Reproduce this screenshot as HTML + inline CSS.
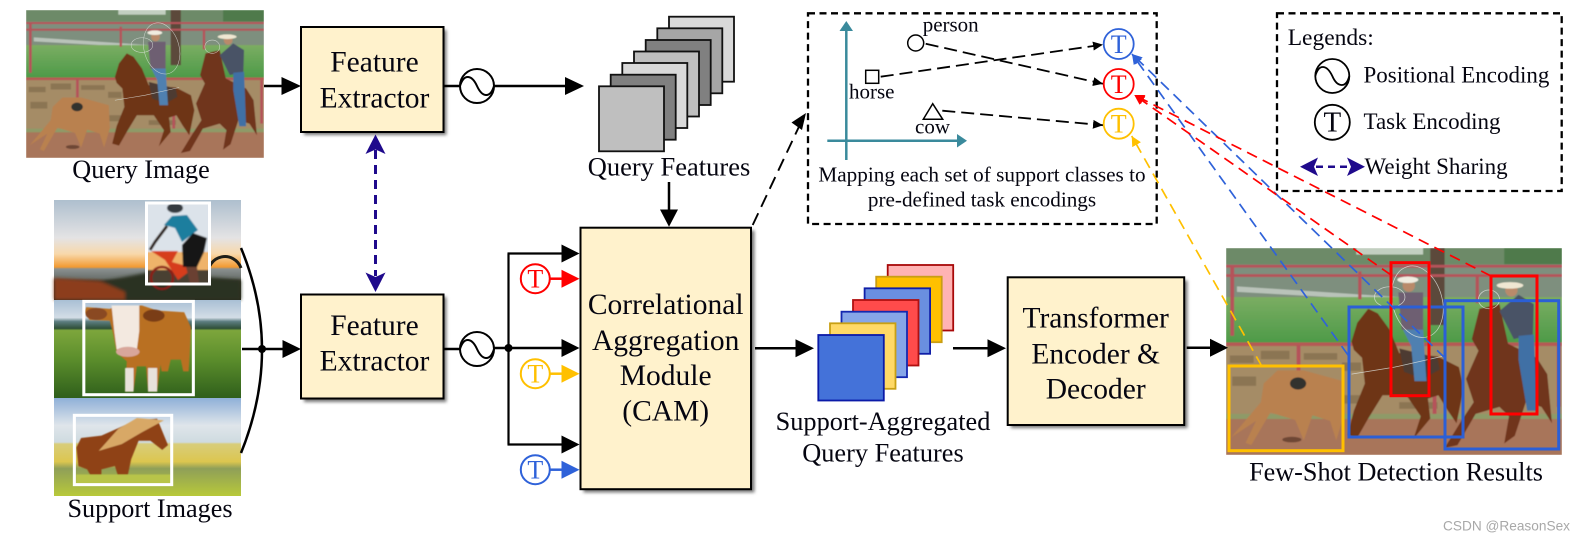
<!DOCTYPE html>
<html><head><meta charset="utf-8">
<style>
html,body{margin:0;padding:0;background:#fff;width:1586px;height:541px;overflow:hidden}
svg{display:block}
text{font-family:"Liberation Serif","Times New Roman",serif;fill:#050510}
</style></head><body>
<svg width="1586" height="541" viewBox="0 0 1586 541" xmlns="http://www.w3.org/2000/svg">
<defs>
<filter id="b" x="-5%" y="-5%" width="110%" height="110%"><feGaussianBlur stdDeviation="1.3"/></filter>
<filter id="s" x="-10%" y="-10%" width="120%" height="120%"><feGaussianBlur stdDeviation="1.5"/></filter>
<filter id="t" x="-5%" y="-5%" width="110%" height="110%"><feGaussianBlur stdDeviation=".7"/></filter>
<linearGradient id="sun" x1="0" y1="0" x2="0" y2="1"><stop offset="0" stop-color="#aebfce"/><stop offset=".38" stop-color="#e4e3e4"/><stop offset=".54" stop-color="#f8d8aa"/><stop offset=".67" stop-color="#f29a32"/><stop offset=".69" stop-color="#8a9090"/><stop offset=".78" stop-color="#6c726e"/><stop offset=".82" stop-color="#3a3428"/><stop offset="1" stop-color="#2c2a1c"/></linearGradient>
<linearGradient id="sky2" x1="0" y1="0" x2="0" y2="1"><stop offset="0" stop-color="#a9bfd4"/><stop offset=".18" stop-color="#d3dde6"/><stop offset=".22" stop-color="#5c7d80"/><stop offset=".29" stop-color="#2f4f38"/><stop offset=".31" stop-color="#7da63c"/><stop offset=".6" stop-color="#5c8e2c"/><stop offset="1" stop-color="#2f5f1b"/></linearGradient>
<linearGradient id="sky3" x1="0" y1="0" x2="0" y2="1"><stop offset="0" stop-color="#8fb0d8"/><stop offset=".28" stop-color="#dfe5ea"/><stop offset=".45" stop-color="#cfdbe0"/><stop offset=".47" stop-color="#d8cd7a"/><stop offset=".65" stop-color="#dcc64f"/><stop offset=".72" stop-color="#8f9f58"/><stop offset="1" stop-color="#b8c93a"/></linearGradient>
<linearGradient id="grass" x1="0" y1="0" x2="0" y2="1"><stop offset="0" stop-color="#7bad62"/><stop offset="1" stop-color="#4c9a48"/></linearGradient>
<clipPath id="qc"><rect x="77" y="30" width="704" height="443"/></clipPath>
<symbol id="scene" viewBox="77 30 704 443" preserveAspectRatio="none">
<g clip-path="url(#qc)"><g filter="url(#b)">
<rect x="77" y="30" width="704" height="443" fill="#a8765a"/>
<rect x="77" y="30" width="704" height="40" fill="#6d8a68"/>
<rect x="350" y="30" width="140" height="14" fill="#c2cfc0"/>
<rect x="660" y="30" width="121" height="35" fill="#4f7a4c"/>
<rect x="77" y="65" width="704" height="70" fill="#7e8f7e"/>
<polygon points="100,112 781,158 781,172 560,150 100,124" fill="#b9c3b9"/>
<rect x="77" y="135" width="704" height="100" fill="url(#grass)"/>
<rect x="505" y="30" width="30" height="165" fill="#5b4a3b"/>
<rect x="77" y="232" width="704" height="8" fill="#b55a55"/>
<rect x="77" y="240" width="704" height="150" fill="#a58c66"/>
<g fill="#7e684a" opacity=".65"><rect x="85" y="260" width="50" height="16"/><rect x="150" y="250" width="60" height="18"/><rect x="240" y="255" width="70" height="14"/><rect x="320" y="275" width="40" height="18"/><rect x="90" y="305" width="50" height="20"/><rect x="320" y="345" width="40" height="18"/><rect x="440" y="360" width="80" height="14"/></g>
<rect x="77" y="385" width="704" height="12" fill="#8e9a68"/>
<rect x="77" y="396" width="704" height="77" fill="#a8755a"/>
<g fill="#b5535a"><rect x="77" y="66" width="704" height="6"/><rect x="77" y="86" width="704" height="6"/><rect x="86" y="70" width="8" height="148"/><rect x="354" y="80" width="7" height="60"/><rect x="600" y="88" width="7" height="60"/><rect x="225" y="238" width="8" height="60"/><rect x="510" y="340" width="8" height="45"/><rect x="770" y="240" width="8" height="130"/></g>
<path d="M340 230L352 190L375 160L395 170L420 205L440 255L520 262L565 285L575 330L560 405L540 375L522 345L500 352L505 395L470 438L485 390L455 345L405 345L375 395L352 436L332 430L345 378L368 320L362 265L345 248Z" fill="#6e3418"/>
<path d="M440 245L520 265L525 290L490 310L450 295Z" fill="#4e3a30"/>
<polygon points="438,125 490,125 490,205 445,205" fill="#6e5f72"/>
<polygon points="448,205 490,205 497,315 472,315 465,240" fill="#4f80b0"/>
<ellipse cx="460" cy="110" rx="13" ry="14" fill="#b98a6a"/>
<ellipse cx="458" cy="98" rx="22" ry="7" fill="#f0ece0"/>
<path d="M592 225L608 160L650 150L668 235L728 265L750 300L760 405L738 370L705 360L682 432L660 448L670 390L650 370L600 385L562 452L535 458L570 400L596 360L580 310L606 250Z" fill="#70341a"/>
<polygon points="650,165 690,130 722,150 720,215 680,225" fill="#4a5266"/>
<polygon points="690,218 722,215 728,378 708,378 690,270" fill="#3f6fa5"/>
<ellipse cx="675" cy="120" rx="13" ry="14" fill="#b98a6a"/>
<ellipse cx="672" cy="110" rx="28" ry="7" fill="#efe7d2"/>
<path d="M88 435L150 360L156 320L185 292L240 292L322 315L325 385L308 442L295 400L258 388L240 442L222 398L170 382L130 452L118 447L140 400Z" fill="#b9814f"/>
<ellipse cx="228" cy="320" rx="17" ry="13" fill="#33302f"/>
<ellipse cx="215" cy="440" rx="20" ry="6" fill="#6e4634"/>
</g>
<g fill="none" stroke="#dfe3df" stroke-width="1.600" opacity=".8"><ellipse cx="478" cy="145" rx="52" ry="78" transform="rotate(-15 478 145)"/><ellipse cx="420" cy="135" rx="32" ry="22"/><ellipse cx="628" cy="140" rx="22" ry="20"/><path d="M340 300L430 285L530 262"/></g>
</g>
</symbol>
<marker id="mk" markerUnits="userSpaceOnUse" markerWidth="14" markerHeight="12" refX="10" refY="5" orient="auto"><path d="M0 .5L10 5L0 9.500Z" fill="#000"/></marker>
<marker id="mb" markerUnits="userSpaceOnUse" markerWidth="14" markerHeight="12" refX="10" refY="5" orient="auto"><path d="M0 0L10 5L0 10Z" fill="#2f62d9"/></marker>
<marker id="mr" markerUnits="userSpaceOnUse" markerWidth="14" markerHeight="12" refX="10" refY="5" orient="auto"><path d="M0 0L10 5L0 10Z" fill="#ff0000"/></marker>
<marker id="my" markerUnits="userSpaceOnUse" markerWidth="14" markerHeight="12" refX="10" refY="5" orient="auto"><path d="M0 0L10 5L0 10Z" fill="#ffc000"/></marker>
</defs>

<!-- query image -->
<svg x="26" y="10" width="238" height="148"><use href="#scene" width="238" height="148"/></svg>
<text x="141" y="178" font-size="26.200" text-anchor="middle">Query Image</text>

<!-- support images -->
<g>
<rect x="54" y="200" width="187" height="100" fill="url(#sun)"/>
<g filter="url(#s)">
<path d="M54 285L90 284L130 276L150 272L241 280V300H54Z" fill="#2c3020"/>
<path d="M54 278L100 281L125 292V300H54Z" fill="#8c3e1c"/>
</g>
<path d="M208 275A17 17 0 0 1 241 268" fill="none" stroke="#1e1e18" stroke-width="3"/>
<g filter="url(#t)">
<rect x="147" y="203" width="62" height="80" fill="#dce3ea"/>
<rect x="147" y="252" width="62" height="18" fill="#efb36a"/>
<rect x="147" y="270" width="62" height="13" fill="#4a4030"/>
<circle cx="162" cy="278" r="11" fill="none" stroke="#8a1a14" stroke-width="2.500"/>
<polygon points="151,251 178,251 172,262 194,268 178,280 165,260" fill="#d63c1c"/>
<ellipse cx="175" cy="208" rx="8" ry="5" fill="#343a40"/>
<path d="M164 225L172 216L187 215L198 230L182 242L175 228Z" fill="#1e7e9e"/>
<path d="M167 226L155 242L150 250" stroke="#2a1c14" stroke-width="3" fill="none"/>
<path d="M182 245L193 233L207 238L204 252L197 267L183 267Z" fill="#141414"/>
<path d="M186 267L197 267L199 283L190 283Z" fill="#6a4030"/>
</g>
<rect x="146.500" y="203" width="63" height="81" fill="none" stroke="#fff" stroke-width="3"/>

<rect x="54" y="300" width="187" height="98" fill="url(#sky2)"/>
<g transform="translate(0,270) scale(.338)">
<g filter="url(#s)">
<path d="M255 110L325 115L345 105L420 105L465 120L545 125L565 170L560 270L558 300L542 300L535 265L505 265L497 300L478 300L475 280L465 360L438 360L432 285L405 285L395 360L370 360L375 270L345 245L335 190L325 150L265 148L250 125Z" fill="#b96f24"/>
<path d="M330 105L412 105L412 180L405 235L345 235L338 180Z" fill="#f3e9e0"/>
<ellipse cx="378" cy="242" rx="35" ry="15" fill="#d8a69a"/>
<ellipse cx="285" cy="130" rx="32" ry="18" fill="#8a4a20"/>
<ellipse cx="455" cy="135" rx="32" ry="18" fill="#7a3e18"/>
<g fill="#e8e2da"><rect x="370" y="290" width="25" height="70"/><rect x="438" y="290" width="27" height="70"/></g>
</g>
<rect x="248" y="93" width="324" height="276" fill="none" stroke="#fff" stroke-width="9"/>
</g>
<rect x="54" y="398" width="187" height="98" fill="url(#sky3)"/>
<g transform="translate(0,270) scale(.338)">
<g filter="url(#s)">
<path d="M226 525L240 497L300 490L345 470L400 445L465 440L497 518L480 532L445 505L410 505L388 560L375 622L350 612L340 580L300 590L300 620L270 612L258 590L232 580Z" fill="#8f4318"/>
<path d="M292 535L350 470L405 438L485 445L420 480L360 515Z" fill="#d8a866"/>
<rect x="225" y="605" width="280" height="28" fill="#b8c44a"/>
</g>
<rect x="220" y="430" width="288" height="205" fill="none" stroke="#fff" stroke-width="9"/>
</g>
</g>
<text x="150" y="517" font-size="26.200" text-anchor="middle">Support Images</text>

<!-- brace & connectors left -->
<path d="M241 248Q283 349 241 453" fill="none" stroke="#000" stroke-width="2.500"/>
<path d="M242 349H284" stroke="#000" stroke-width="2.500"/>
<circle cx="262" cy="349" r="4" fill="#000"/>
<polygon points="301,349 282.500,340 282.500,358" fill="#000"/>
<path d="M264 86H283" stroke="#000" stroke-width="2.500"/>
<polygon points="301,86 281.500,77 281.500,95" fill="#000"/>

<!-- feature extractors -->
<rect x="304" y="30" width="142.500" height="105" fill="#777" filter="url(#s)"/>
<rect x="301" y="27" width="142.500" height="105" fill="#fff2cc" stroke="#000" stroke-width="2"/>
<text x="374.500" y="71.500" font-size="29.500" text-anchor="middle">Feature</text>
<text x="374.500" y="107.500" font-size="29.500" text-anchor="middle">Extractor</text>
<rect x="304" y="297" width="142.500" height="105" fill="#777" filter="url(#s)"/>
<rect x="301" y="294.500" width="142.500" height="104" fill="#fff2cc" stroke="#000" stroke-width="2"/>
<text x="374.500" y="335" font-size="29.500" text-anchor="middle">Feature</text>
<text x="374.500" y="370.500" font-size="29.500" text-anchor="middle">Extractor</text>

<!-- weight sharing -->
<path d="M375.500 150V276" stroke="#1f0a8c" stroke-width="3" stroke-dasharray="9 6" fill="none"/>
<polygon points="375.500,134.500 385.500,154 375.500,149.500 365.500,154" fill="#1f0a8c"/>
<polygon points="375.500,292 385.500,272.500 375.500,277 365.500,272.500" fill="#1f0a8c"/>

<!-- positional encodings -->
<path d="M443 86H460M494 86H567" stroke="#000" stroke-width="2.500"/>
<polygon points="584,86 565,77 565,95" fill="#000"/>
<g fill="none" stroke="#000" stroke-width="2">
<circle cx="477" cy="86" r="17"/><path d="M460 86C464 73 472 75 477 86C482 97 490 99 494 86"/>
<circle cx="477" cy="349" r="17"/><path d="M460 349C464 336 472 338 477 349C482 360 490 362 494 349"/>
</g>
<path d="M443 349H460M494 348H562" stroke="#000" stroke-width="2.500"/>
<circle cx="508.500" cy="348" r="4" fill="#000"/>
<path d="M508.500 253.500V444.500" stroke="#000" stroke-width="2.200" fill="none"/>
<path d="M507.500 253.500H562M507.500 444.500H562" stroke="#000" stroke-width="2.200" fill="none"/>
<polygon points="579.500,253.500 561.500,244.500 561.500,262.500" fill="#000"/>
<polygon points="579.500,348 561.500,339 561.500,357" fill="#000"/>
<polygon points="579.500,444.500 561.500,435.500 561.500,453.500" fill="#000"/>

<!-- T circles left -->
<g font-size="26" text-anchor="middle" fill="none" stroke-width="2">
<circle cx="535.300" cy="278.700" r="14.500" stroke="#ff0000"/><text x="535.300" y="287.500" style="fill:#ff0000">T</text>
<circle cx="535.300" cy="373.700" r="14.500" stroke="#ffc000"/><text x="535.300" y="382.500" style="fill:#ffc000">T</text>
<circle cx="535.300" cy="469.700" r="14.500" stroke="#2f62d9"/><text x="535.300" y="478.500" style="fill:#2f62d9">T</text>
</g>
<path d="M550 278.700H563" stroke="#ff0000" stroke-width="2.500"/><polygon points="579.500,278.700 561.500,269.700 561.500,287.700" fill="#ff0000"/>
<path d="M550 373.700H563" stroke="#ffc000" stroke-width="2.500"/><polygon points="579.500,373.700 561.500,364.700 561.500,382.700" fill="#ffc000"/>
<path d="M550 469.700H563" stroke="#2f62d9" stroke-width="2.500"/><polygon points="579.500,469.700 561.500,460.700 561.500,478.700" fill="#2f62d9"/>

<!-- CAM -->
<rect x="583.500" y="230.500" width="171" height="262" fill="#777" filter="url(#s)"/>
<rect x="580.500" y="227.700" width="170.500" height="261.500" fill="#fff2cc" stroke="#000" stroke-width="2"/>
<g font-size="29.500" text-anchor="middle">
<text x="665.700" y="314">Correlational</text>
<text x="665.700" y="350">Aggregation</text>
<text x="665.700" y="385">Module</text>
<text x="665.700" y="420.700">(CAM)</text>
</g>

<!-- query feature stack -->
<g stroke="#111" stroke-width="1.800">
<rect x="669" y="16.700" width="65" height="65" fill="#d9d9d9"/>
<rect x="657.300" y="28.300" width="65" height="65" fill="#a6a6a6"/>
<rect x="645.700" y="40" width="65" height="65" fill="#808080"/>
<rect x="634" y="51.500" width="65" height="65" fill="#bfbfbf"/>
<rect x="622.300" y="63" width="65" height="65" fill="#d9d9d9"/>
<rect x="610.700" y="74.700" width="65" height="65" fill="#808080"/>
<rect x="599" y="86.300" width="65" height="65" fill="#bfbfbf"/>
</g>
<text x="669" y="175.700" font-size="26.500" text-anchor="middle">Query Features</text>
<path d="M669 182V212" stroke="#000" stroke-width="2.500"/>
<polygon points="669,226.700 660,209.500 678,209.500" fill="#000"/>

<!-- aggregated stack -->
<g stroke-width="1.800">
<rect x="887.700" y="265" width="65.500" height="65.500" fill="#ffb3b3" stroke="#a80808"/>
<rect x="876.200" y="276.700" width="65.500" height="65.500" fill="#ffc000" stroke="#c99e14"/>
<rect x="864.600" y="288.300" width="65.500" height="65.500" fill="#6a8fe0" stroke="#0f1ea8"/>
<rect x="853" y="300" width="65.500" height="65.500" fill="#ff4b4b" stroke="#b01010"/>
<rect x="841.500" y="311.700" width="65.500" height="65.500" fill="#86a6e8" stroke="#1428b0"/>
<rect x="830" y="323.300" width="65.500" height="65.500" fill="#ffd966" stroke="#c9a014"/>
<rect x="818.300" y="335" width="65.500" height="65.500" fill="#4472d9" stroke="#0a1aa8"/>
</g>
<path d="M755 348.300H798" stroke="#000" stroke-width="2.500"/>
<polygon points="814,348.300 795.500,339.300 795.500,357.300" fill="#000"/>
<text x="883" y="430" font-size="26.300" text-anchor="middle">Support-Aggregated</text>
<text x="883" y="461.700" font-size="26.300" text-anchor="middle">Query Features</text>
<path d="M953 348.300H990" stroke="#000" stroke-width="2.500"/>
<polygon points="1006,348.300 987.500,339.300 987.500,357.300" fill="#000"/>

<!-- transformer -->
<rect x="1011" y="280.500" width="176.500" height="147.500" fill="#777" filter="url(#s)"/>
<rect x="1007.700" y="277.300" width="176.500" height="147.700" fill="#fff2cc" stroke="#000" stroke-width="2"/>
<g font-size="29.500" text-anchor="middle">
<text x="1095.700" y="327.700">Transformer</text>
<text x="1095.700" y="363.300">Encoder &amp;</text>
<text x="1095.700" y="398.300">Decoder</text>
</g>
<path d="M1186.700 347.700H1212" stroke="#000" stroke-width="2.500"/>

<!-- result image -->
<svg x="1226" y="248" width="336" height="207"><use href="#scene" width="336" height="207"/></svg>
<polygon points="1228,347.700 1210,338.700 1210,356.700" fill="#000"/>
<g fill="none" stroke-width="3">
<rect x="1229" y="366" width="114" height="84.700" stroke="#ffc000"/>
<rect x="1349" y="307" width="114" height="130" stroke="#2b5fd6"/>
<rect x="1445" y="300.700" width="113.700" height="148.300" stroke="#2b5fd6"/>
<rect x="1391" y="262.700" width="38" height="133" stroke="#ff0000"/>
<rect x="1491" y="276" width="46" height="138" stroke="#ff0000"/>
</g>
<text x="1396" y="480.700" font-size="26.200" text-anchor="middle">Few-Shot Detection Results</text>

<!-- mapping box -->
<rect x="808" y="13.300" width="348.700" height="210.700" fill="none" stroke="#000" stroke-width="2.300" stroke-dasharray="7 4.500"/>
<g stroke="#3a8a9c" stroke-width="2.500" fill="none"><path d="M846.300 160V30"/><path d="M827.300 140.700H958"/></g>
<polygon points="846.300,21 839.500,31 853,31" fill="#3a8a9c"/>
<polygon points="967,140.700 957,134 957,147.500" fill="#3a8a9c"/>
<circle cx="915.700" cy="43" r="8" fill="#fff" stroke="#000" stroke-width="1.500"/>
<rect x="865.700" y="70.300" width="13" height="13" fill="#fff" stroke="#000" stroke-width="1.500"/>
<polygon points="932.700,103.700 923.300,119.300 942.700,119.300" fill="#fff" stroke="#000" stroke-width="1.500"/>
<g font-size="21">
<text x="922.700" y="31.700">person</text>
<text x="849" y="98.300">horse</text>
<text x="915" y="133.300">cow</text>
</g>
<g stroke="#000" stroke-width="1.800" stroke-dasharray="13 6" fill="none">
<path d="M925.700 43.700L1103 83.800" marker-end="url(#mk)"/>
<path d="M880.700 76.700L1103 44.600" marker-end="url(#mk)"/>
<path d="M942.300 110.700L1103 125.200" marker-end="url(#mk)"/>
</g>
<g font-size="26" text-anchor="middle" fill="none" stroke-width="1.800">
<circle cx="1118.700" cy="44" r="15" stroke="#2f62d9"/><text x="1118.700" y="53" style="fill:#2f62d9">T</text>
<circle cx="1118.700" cy="84" r="15" stroke="#ff0000"/><text x="1118.700" y="93" style="fill:#ff0000">T</text>
<circle cx="1118.700" cy="123.700" r="15" stroke="#ffc000"/><text x="1118.700" y="132.700" style="fill:#ffc000">T</text>
</g>
<text x="982" y="181.700" font-size="21.200" text-anchor="middle">Mapping each set of support classes to</text>
<text x="982" y="206.700" font-size="21.200" text-anchor="middle">pre-defined task encodings</text>

<!-- CAM to mapping -->
<path d="M752.700 225L804 116" stroke="#000" stroke-width="1.900" stroke-dasharray="13 7" fill="none"/>
<polygon points="806,113 791.500,122.500 802,130" fill="#000"/>

<!-- legend -->
<rect x="1277" y="13.300" width="284.700" height="177.700" fill="none" stroke="#000" stroke-width="2.300" stroke-dasharray="7 4.500"/>
<text x="1287.700" y="45" font-size="23.500">Legends:</text>
<g fill="none" stroke="#000" stroke-width="1.800">
<circle cx="1332.300" cy="76" r="17"/><path d="M1315.300 76C1319 63 1327 65 1332.300 76C1337 87 1346 89 1349.300 76"/>
<circle cx="1332.300" cy="122.300" r="17.500"/>
</g>
<text x="1332.300" y="131.500" font-size="29" text-anchor="middle">T</text>
<g font-size="23">
<text x="1363.500" y="82.700">Positional Encoding</text>
<text x="1363.500" y="129">Task Encoding</text>
<text x="1364.500" y="174">Weight Sharing</text>
</g>
<path d="M1316 166.700H1350" stroke="#1f0a8c" stroke-width="2.500" stroke-dasharray="7 5" fill="none"/>
<polygon points="1300,166.700 1318,157.500 1314,166.700 1318,176" fill="#1f0a8c"/>
<polygon points="1365,166.700 1347,157.500 1351,166.700 1347,176" fill="#1f0a8c"/>

<!-- long dashed colored lines -->
<g fill="none" stroke-width="1.700" stroke-dasharray="11 6.500">
<path d="M1445 358L1132 54" stroke="#2f62d9" marker-end="url(#mb)"/>
<path d="M1348 355L1132 54" stroke="#2f62d9" marker-end="url(#mb)"/>
<path d="M1491 276L1134.300 95" stroke="#ff0000" marker-end="url(#mr)"/>
<path d="M1391 275L1134.300 95" stroke="#ff0000" marker-end="url(#mr)"/>
<path d="M1261.700 366L1131.700 136" stroke="#ffc000" marker-end="url(#my)"/>
</g>

<!-- watermark -->
<text x="1443" y="530.500" font-size="14" textLength="127" lengthAdjust="spacingAndGlyphs" style="font-family:'Liberation Sans',sans-serif;fill:#a8a8a8">CSDN @ReasonSex</text>
</svg>
</body></html>
